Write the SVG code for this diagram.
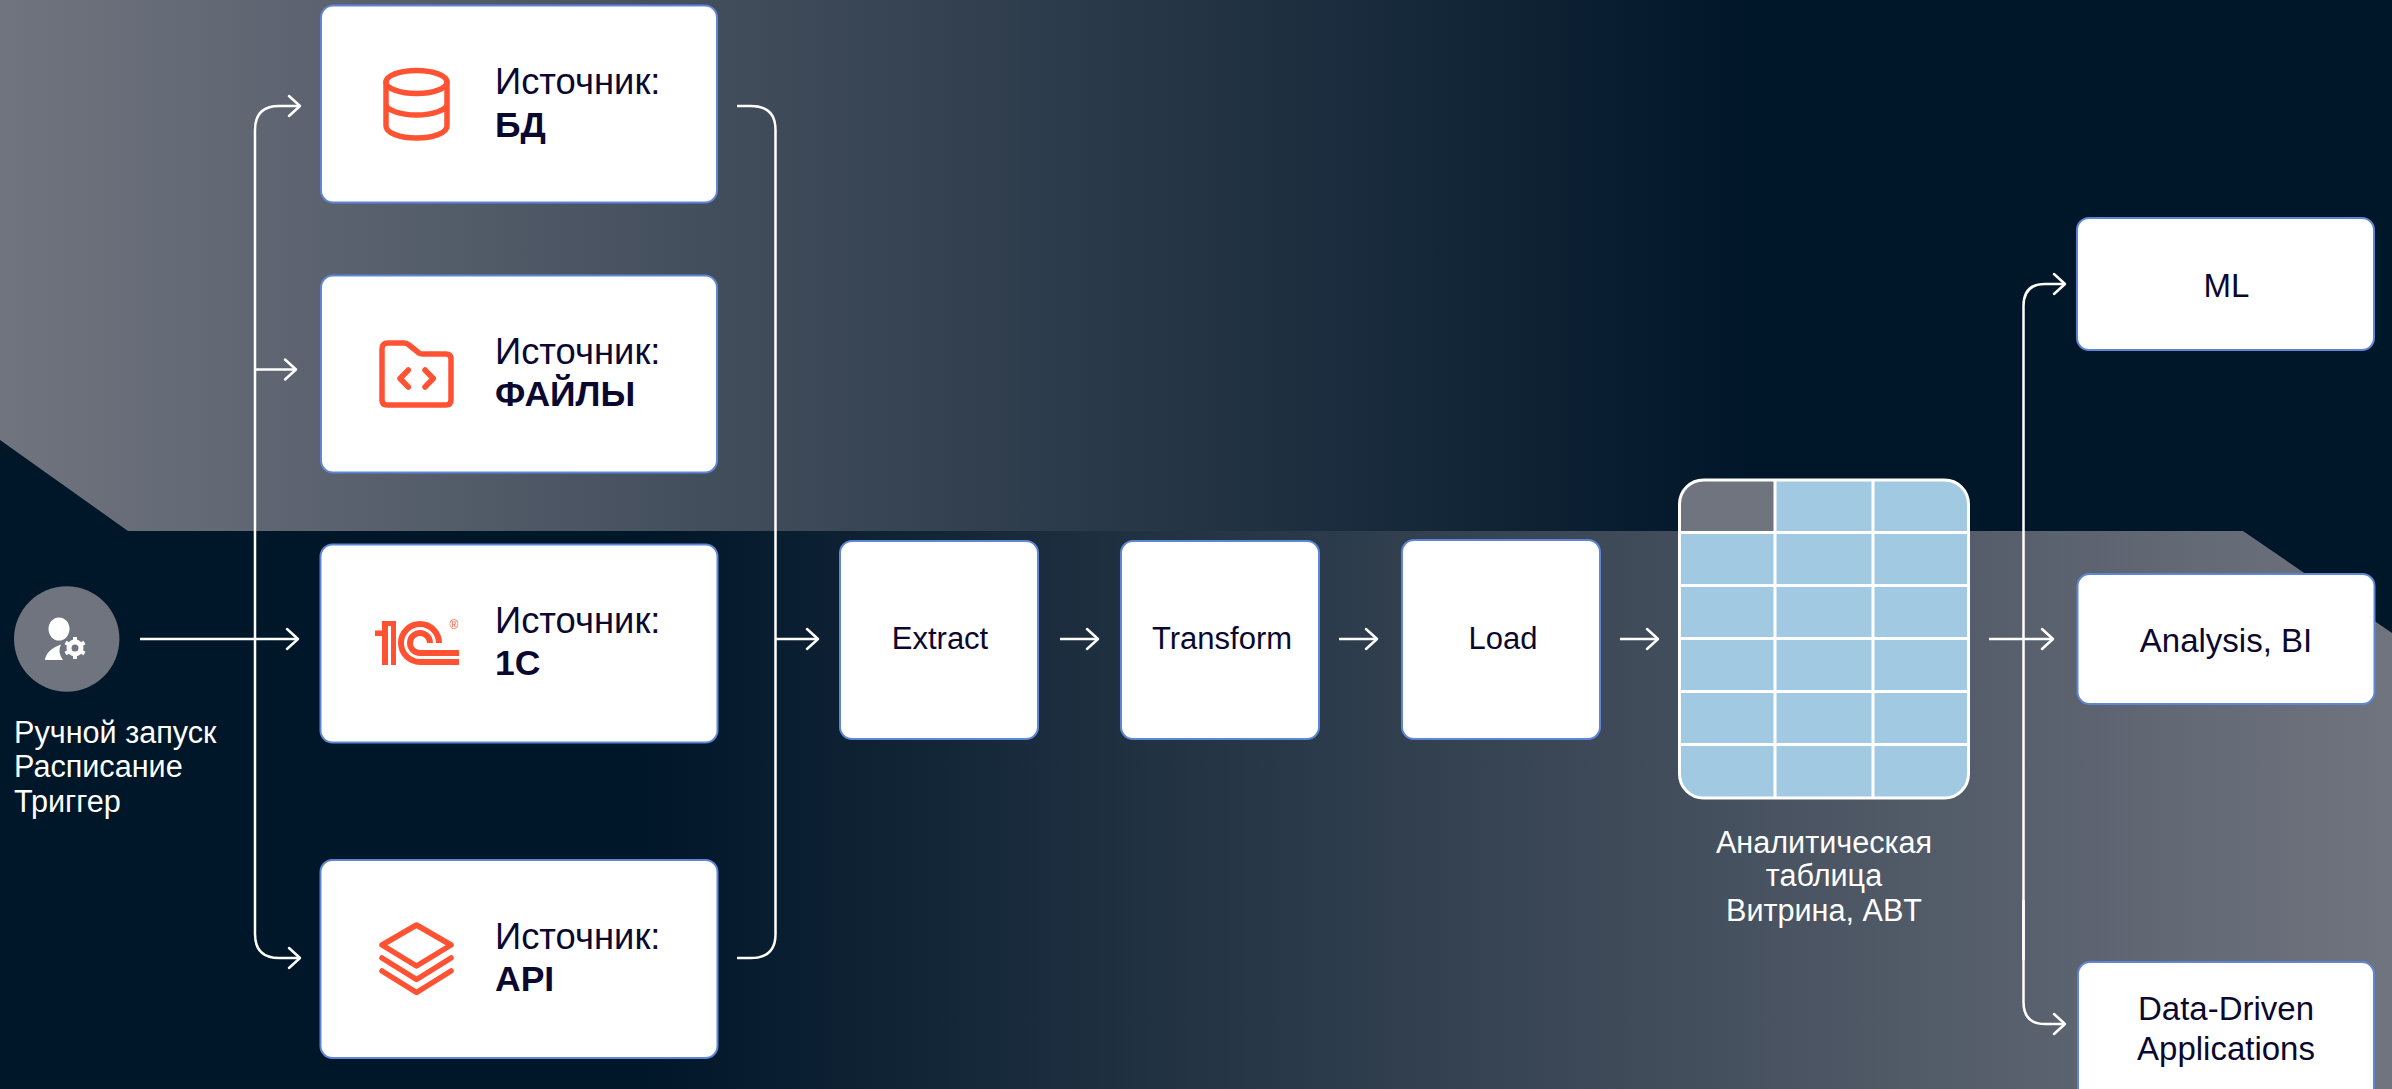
<svg xmlns="http://www.w3.org/2000/svg" width="2392" height="1089" viewBox="0 0 2392 1089">
<style>
text{font-family:"Liberation Sans",Arial,sans-serif}
.box{fill:#fff;stroke:#5f86d6;stroke-width:2}
.t{font-size:36.400px;fill:#0b0830}
.b{font-size:35.500px;font-weight:700;fill:#0b0830}
.c{font-size:31px;fill:#0b0830;text-anchor:middle}
.o{font-size:33px;fill:#0b0830;text-anchor:middle}
.w{font-size:30.600px;fill:#fff}
.wc{font-size:30.600px;fill:#fff;text-anchor:middle}
.i{fill:none;stroke:#ff5233;stroke-width:5.5;stroke-linecap:round;stroke-linejoin:round}
.l{fill:none;stroke:#ff5233;stroke-width:6}
.k{fill:none;stroke:#fff;stroke-width:2.5}
.a{marker-end:url(#h)}
.g{stroke:#fff;stroke-width:3;fill:none}
</style>
<defs>
<linearGradient id="g1" gradientUnits="userSpaceOnUse" x1="0" y1="0" x2="1750" y2="0"><stop offset="0" stop-color="#70747f"/><stop offset="1" stop-color="#001629"/></linearGradient>
<linearGradient id="g2" gradientUnits="userSpaceOnUse" x1="2392" y1="0" x2="642" y2="0"><stop offset="0" stop-color="#70747f"/><stop offset="1" stop-color="#001629"/></linearGradient>
<marker id="h" markerUnits="userSpaceOnUse" markerWidth="16" markerHeight="26" refX="13" refY="12" orient="auto" overflow="visible"><path d="M2 2L13 12L2 22" fill="none" stroke="#fff" stroke-width="2.5" stroke-linecap="round" stroke-linejoin="round"/></marker>
</defs>
<g id="background">
<rect width="2392" height="1089" fill="#001629"/>
<path d="M0 0H2392V531H128L0 440Z" fill="url(#g1)"/>
<path d="M128 531H2243L2392 633V1089H0V531Z" fill="url(#g2)"/>
</g>
<g id="connectors">
<path class="k a" d="M255 900V130Q255 106 279 106H300"/>
<path class="k a" d="M255 369.500H296"/>
<path class="k a" d="M140 639H298"/>
<path class="k a" d="M255 900V934Q255 958 279 958H300"/>
<path class="k" d="M737 106H751Q775.500 106 775.500 130V934Q775.500 958 751 958H737"/>
<path class="k a" d="M775.500 639H818"/>
<path class="k a" d="M1060 639H1098"/>
<path class="k a" d="M1339 639H1377"/>
<path class="k a" d="M1620 639H1658"/>
<path class="k a" d="M1989 639H2053"/>
<path class="k a" d="M2023.500 960V306Q2023.500 284 2045 284H2065"/>
<path class="k a" d="M2023.500 900V1002Q2023.500 1024 2045 1024H2065"/>
</g>
<g id="trigger">
<circle cx="66.700" cy="639" r="52.700" fill="#70747f"/>
<ellipse cx="59" cy="629" rx="10.500" ry="11.500" fill="#fff"/>
<path d="M45 660Q46 650 61 644.500Q57 652 63 660Z" fill="#fff"/>
<circle cx="75" cy="648" r="6" fill="none" stroke="#fff" stroke-width="5"/>
<path d="M75 637V641M75 655V659M65.500 642.500L69 644.500M81 651.500L84.500 653.500M65.500 653.500L69 651.500M81 644.500L84.500 642.500" stroke="#fff" stroke-width="4"/>
<text class="w" x="14" y="742.500">Ручной запуск</text>
<text class="w" x="14" y="777">Расписание</text>
<text class="w" x="14" y="811.500">Триггер</text>
</g>
<g id="source-db">
<rect class="box" x="321" y="5.500" width="396" height="197" rx="12"/>
<ellipse class="i" cx="416.500" cy="82" rx="30.500" ry="11.500"/>
<path class="i" d="M386 82V126C386 133 400 138 416.500 138S447 133 447 126V82M386 104C386 110 400 115 416.500 115S447 110 447 104"/>
<text class="t" x="495" y="93.500">Источник:</text>
<text class="b" x="495" y="136.500">БД</text>
</g>
<g id="source-files">
<rect class="box" x="321" y="275.500" width="396" height="197" rx="12"/>
<path class="i" d="M388 343H404Q407 343 409 345L419 353Q420 354 423 354H446Q451 354 451 359V400Q451 405 446 405H387Q382 405 382 400V349Q382 343 388 343ZM408.300 370L400 378.500L408.300 387M425 370L433.300 378.500L425 387"/>
<text class="t" x="495" y="363.500">Источник:</text>
<text class="b" x="495" y="405.500">ФАЙЛЫ</text>
</g>
<g id="source-1c">
<rect class="box" x="320.500" y="544.500" width="397" height="198" rx="12"/>
<path d="M375 630.500H382V621H396V665H391V626H388V665H382V636H375Z" fill="#ff5233"/>
<path class="l" d="M459 662H420A19 19 0 1 1 439 643"/>
<path class="l" d="M459 653H420A10 10 0 1 1 430 643"/>
<text x="454" y="629" font-size="12" fill="#ff5233" text-anchor="middle">®</text>
<text class="t" x="495" y="633">Источник:</text>
<text class="b" x="495" y="675">1С</text>
</g>
<g id="source-api">
<rect class="box" x="320.500" y="860" width="397" height="198" rx="12"/>
<path class="i" d="M416.500 925L451 945L416.500 966L382 945ZM382 958L416.500 979.500L451 958M382 971L416.500 992.500L451 971"/>
<text class="t" x="495" y="948.500">Источник:</text>
<text class="b" x="495" y="990.500">API</text>
</g>
<g id="extract"><rect class="box" x="840" y="541" width="198" height="198" rx="12"/><text class="c" x="940" y="649">Extract</text></g>
<g id="transform"><rect class="box" x="1121" y="541" width="198" height="198" rx="12"/><text class="c" x="1222" y="649">Transform</text></g>
<g id="load"><rect class="box" x="1402" y="540" width="198" height="199" rx="12"/><text class="c" x="1503" y="649">Load</text></g>
<g id="abt">
<rect x="1679.500" y="480" width="289" height="318" rx="24" fill="#a2c9e2"/>
<path d="M1775 481V532.500H1680V504Q1680 481 1704 481Z" fill="#70747f"/>
<rect class="g" x="1679.500" y="480" width="289" height="318" rx="24"/>
<path class="g" d="M1775 480V798M1873 480V798M1680 532.500H1968M1680 585.500H1968M1680 638.500H1968M1680 691.500H1968M1680 744.500H1968"/>
<text class="wc" x="1824" y="853">Аналитическая</text>
<text class="wc" x="1824" y="886">таблица</text>
<text class="wc" x="1824" y="921">Витрина, ABT</text>
</g>
<g id="ml"><rect class="box" x="2077" y="218" width="297" height="132" rx="12"/><text class="o" x="2226.500" y="297">ML</text></g>
<g id="analysis"><rect class="box" x="2077.500" y="574" width="297" height="130" rx="12"/><text class="o" x="2226" y="652">Analysis, BI</text></g>
<g id="apps"><rect class="box" x="2078" y="962" width="296" height="140" rx="12"/><text class="o" x="2226" y="1020">Data-Driven</text><text class="o" x="2226" y="1060">Applications</text></g>
</svg>
